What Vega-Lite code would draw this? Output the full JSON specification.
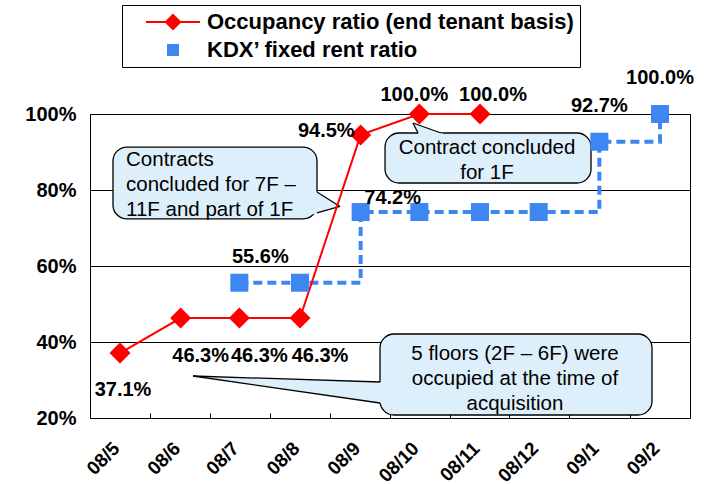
{
  "$schema": "https://vega.github.io/schema/vega-lite/v6.json",
  "width": 600,
  "height": 304,
  "autosize": "none",
  "padding": {"left": 90, "top": 114, "right": 21, "bottom": 66},
  "background": "white",
  "datasets": {
    "occ": [
      {"month": "2008-05-01", "value": 37.1, "label": "37.1%"},
      {"month": "2008-06-01", "value": 46.3, "label": "46.3%"},
      {"month": "2008-07-01", "value": 46.3, "label": "46.3%"},
      {"month": "2008-08-01", "value": 46.3, "label": "46.3%"},
      {"month": "2008-09-01", "value": 94.5, "label": "94.5%"},
      {"month": "2008-10-01", "value": 100.0, "label": "100.0%"},
      {"month": "2008-11-01", "value": 100.0, "label": "100.0%"}
    ],
    "rent": [
      {"month": "2008-07-01", "value": 55.6, "label": "55.6%"},
      {"month": "2008-08-01", "value": 55.6},
      {"month": "2008-09-01", "value": 74.2, "label": "74.2%"},
      {"month": "2008-10-01", "value": 74.2},
      {"month": "2008-11-01", "value": 74.2},
      {"month": "2008-12-01", "value": 74.2},
      {"month": "2009-01-01", "value": 92.7, "label": "92.7%"},
      {"month": "2009-02-01", "value": 100.0, "label": "100.0%"}
    ],
    "boxes": [
      {"id": 1, "x": "2008-04-27T10:00:00Z", "x2": "2008-08-09T16:30:00Z", "y": 91.3, "y2": 72.4},
      {"id": 2, "x": "2008-09-13T11:00:00Z", "x2": "2008-12-27T18:00:00Z", "y": 95.0, "y2": 81.84},
      {"id": 3, "x": "2008-09-10T21:30:00Z", "x2": "2009-01-27T22:00:00Z", "y": 42.1, "y2": 20.79}
    ],
    "ptrV": [
      {"id": 1, "x": "2008-08-06T15:00:00Z", "y": 80.47, "y2": 73.5},
      {"id": 1, "x": "2008-08-21T10:30:00Z", "y": 75.66, "y2": 75.66},
      {"id": 3, "x": "2008-06-07T07:30:00Z", "y": 31.05, "y2": 31.05},
      {"id": 3, "x": "2008-09-13T11:00:00Z", "y": 29.43, "y2": 23.76}
    ],
    "ptrH": [
      {"id": 2, "y": 97.63, "x": "2008-09-27T18:00:00Z", "x2": "2008-09-27T18:00:00Z"},
      {"id": 2, "y": 94.0, "x": "2008-10-01T07:00:00Z", "x2": "2008-10-17T12:00:00Z"}
    ],
    "edges": [
      {"edge": "1a", "x": "2008-08-09T16:30:00Z", "y": 79.47},
      {"edge": "1a", "x": "2008-08-21T10:30:00Z", "y": 75.66},
      {"edge": "1b", "x": "2008-08-09T16:30:00Z", "y": 73.95},
      {"edge": "1b", "x": "2008-08-21T10:30:00Z", "y": 75.66},
      {"edge": "2a", "x": "2008-09-30T07:30:00Z", "y": 95.0},
      {"edge": "2a", "x": "2008-09-27T18:00:00Z", "y": 97.63},
      {"edge": "2b", "x": "2008-10-12T01:30:00Z", "y": 95.0},
      {"edge": "2b", "x": "2008-09-27T18:00:00Z", "y": 97.63},
      {"edge": "3a", "x": "2008-09-10T21:30:00Z", "y": 29.47},
      {"edge": "3a", "x": "2008-06-07T07:30:00Z", "y": 31.05},
      {"edge": "3b", "x": "2008-09-10T21:30:00Z", "y": 23.95},
      {"edge": "3b", "x": "2008-06-07T07:30:00Z", "y": 31.05}
    ],
    "notes": [
      {"id": 1, "x": "2008-05-04T02:00:00Z", "y": 87.89, "text": "Contracts\nconcluded for 7F –\n11F and part of 1F"},
      {"id": 2, "x": "2008-11-04T14:00:00Z", "y": 91.18, "text": "Contract concluded\nfor 1F"},
      {"id": 3, "x": "2008-11-18T21:00:00Z", "y": 36.84, "text": "5 floors (2F – 6F) were\noccupied at the time of\nacquisition"}
    ]
  },
  "resolve": {"axis": {"x": "independent"}},
  "layer": [
    {
      "data": {"name": "boxes"},
      "mark": {"type": "rect", "cornerRadius": 14, "fill": "#DDEFFA", "stroke": "#000", "strokeWidth": 1.3},
      "encoding": {
        "x": {"field": "x", "type": "temporal", "axis": null, "scale": {"type": "utc", "domain": [{"year": 2008, "month": 4, "date": 15, "hours": 16, "utc": true}, {"year": 2009, "month": 2, "date": 16, "hours": 8, "utc": true}]}},
        "x2": {"field": "x2"},
        "y": {"field": "y", "type": "quantitative", "scale": {"domain": [20, 100], "nice": false, "zero": false}},
        "y2": {"field": "y2"}
      }
    },
    {
      "data": {"name": "ptrV"},
      "mark": {"type": "area", "orient": "vertical", "fill": "#DDEFFA", "opacity": 1},
      "encoding": {
        "x": {"field": "x", "type": "temporal", "axis": null, "scale": {"type": "utc", "domain": [{"year": 2008, "month": 4, "date": 15, "hours": 16, "utc": true}, {"year": 2009, "month": 2, "date": 16, "hours": 8, "utc": true}]}},
        "y": {"field": "y", "type": "quantitative", "scale": {"domain": [20, 100], "nice": false, "zero": false}},
        "y2": {"field": "y2"},
        "detail": {"field": "id", "type": "nominal"}
      }
    },
    {
      "data": {"name": "ptrH"},
      "mark": {"type": "area", "orient": "horizontal", "fill": "#DDEFFA", "opacity": 1},
      "encoding": {
        "y": {"field": "y", "type": "quantitative", "scale": {"domain": [20, 100], "nice": false, "zero": false}},
        "x": {"field": "x", "type": "temporal", "axis": null, "scale": {"type": "utc", "domain": [{"year": 2008, "month": 4, "date": 15, "hours": 16, "utc": true}, {"year": 2009, "month": 2, "date": 16, "hours": 8, "utc": true}]}},
        "x2": {"field": "x2"},
        "detail": {"field": "id", "type": "nominal"}
      }
    },
    {
      "data": {"name": "edges"},
      "mark": {"type": "line", "color": "#000", "strokeWidth": 1.3},
      "encoding": {
        "x": {"field": "x", "type": "temporal", "axis": null, "scale": {"type": "utc", "domain": [{"year": 2008, "month": 4, "date": 15, "hours": 16, "utc": true}, {"year": 2009, "month": 2, "date": 16, "hours": 8, "utc": true}]}},
        "y": {"field": "y", "type": "quantitative", "scale": {"domain": [20, 100], "nice": false, "zero": false}},
        "detail": {"field": "edge", "type": "nominal"}
      }
    },
    {
      "data": {"name": "notes"},
      "transform": [{"filter": "datum.id == 1"}],
      "mark": {"type": "text", "align": "left", "baseline": "middle", "lineBreak": "\n", "lineHeight": 25, "font": "Liberation Sans", "fontSize": 20.5, "color": "#000"},
      "encoding": {
        "x": {"field": "x", "type": "temporal", "axis": null, "scale": {"type": "utc", "domain": [{"year": 2008, "month": 4, "date": 15, "hours": 16, "utc": true}, {"year": 2009, "month": 2, "date": 16, "hours": 8, "utc": true}]}},
        "y": {"field": "y", "type": "quantitative", "scale": {"domain": [20, 100], "nice": false, "zero": false}},
        "text": {"field": "text", "type": "nominal"}
      }
    },
    {
      "data": {"name": "notes"},
      "transform": [{"filter": "datum.id != 1"}],
      "mark": {"type": "text", "align": "center", "baseline": "middle", "lineBreak": "\n", "lineHeight": 25, "font": "Liberation Sans", "fontSize": 20.5, "color": "#000"},
      "encoding": {
        "x": {"field": "x", "type": "temporal", "axis": null, "scale": {"type": "utc", "domain": [{"year": 2008, "month": 4, "date": 15, "hours": 16, "utc": true}, {"year": 2009, "month": 2, "date": 16, "hours": 8, "utc": true}]}},
        "y": {"field": "y", "type": "quantitative", "scale": {"domain": [20, 100], "nice": false, "zero": false}},
        "text": {"field": "text", "type": "nominal"}
      }
    },
    {
      "data": {"name": "rent"},
      "mark": {"type": "line", "interpolate": "step-after", "color": "#3E86F2", "strokeWidth": 4, "strokeDash": [9, 5]},
      "encoding": {
        "x": {"field": "month", "type": "temporal", "scale": {"type": "utc", "domain": [{"year": 2008, "month": 4, "date": 15, "hours": 16, "utc": true}, {"year": 2009, "month": 2, "date": 16, "hours": 8, "utc": true}]},
          "axis": {"orient": "bottom", "offset": -5, "values": [
            {"year": 2008, "month": 5, "date": 16, "hours": 12, "utc": true},
            {"year": 2008, "month": 6, "date": 16, "utc": true},
            {"year": 2008, "month": 7, "date": 16, "hours": 12, "utc": true},
            {"year": 2008, "month": 8, "date": 16, "hours": 12, "utc": true},
            {"year": 2008, "month": 9, "date": 16, "utc": true},
            {"year": 2008, "month": 10, "date": 16, "hours": 12, "utc": true},
            {"year": 2008, "month": 11, "date": 16, "utc": true},
            {"year": 2008, "month": 12, "date": 16, "hours": 12, "utc": true},
            {"year": 2009, "month": 1, "date": 16, "hours": 12, "utc": true}
          ], "labels": false, "ticks": true, "tickSize": 5, "tickColor": "#000", "tickWidth": 1, "domain": false, "grid": false, "title": null}},
        "y": {"field": "value", "type": "quantitative", "scale": {"domain": [20, 100], "nice": false, "zero": false}}
      }
    },
    {
      "data": {"name": "occ"},
      "mark": {"type": "line", "color": "#FF0000", "strokeWidth": 2},
      "encoding": {
        "x": {"field": "month", "type": "temporal", "scale": {"type": "utc", "domain": [{"year": 2008, "month": 4, "date": 15, "hours": 16, "utc": true}, {"year": 2009, "month": 2, "date": 16, "hours": 8, "utc": true}]},
          "axis": {"orient": "bottom", "values": [
            {"year": 2008, "month": 5, "date": 1, "utc": true},
            {"year": 2008, "month": 6, "date": 1, "utc": true},
            {"year": 2008, "month": 7, "date": 1, "utc": true},
            {"year": 2008, "month": 8, "date": 1, "utc": true},
            {"year": 2008, "month": 9, "date": 1, "utc": true},
            {"year": 2008, "month": 10, "date": 1, "utc": true},
            {"year": 2008, "month": 11, "date": 1, "utc": true},
            {"year": 2008, "month": 12, "date": 1, "utc": true},
            {"year": 2009, "month": 1, "date": 1, "utc": true},
            {"year": 2009, "month": 2, "date": 1, "utc": true}
          ], "labelExpr": "utcFormat(datum.value, '%y/%-m')", "labelAngle": -45, "labelAlign": "right", "labelBaseline": "middle", "labelPadding": 27, "labelOffset": -4, "labelFont": "Liberation Sans", "labelFontSize": 19, "labelFontWeight": "bold", "labelColor": "#000", "ticks": false, "domain": false, "grid": false, "title": null, "labelOverlap": false, "labelBound": false, "labelFlush": false}},
        "y": {"field": "value", "type": "quantitative", "scale": {"domain": [20, 100], "nice": false, "zero": false},
          "axis": {"values": [20, 40, 60, 80, 100], "labelExpr": "datum.value + '%'", "grid": true, "gridColor": "#000", "gridWidth": 1, "gridOpacity": 1, "domain": false, "ticks": false, "tickSize": 0, "labelFont": "Liberation Sans", "labelFontSize": 20, "labelFontWeight": "bold", "labelColor": "#000", "labelPadding": 14, "title": null, "labelOverlap": false}}
      }
    },
    {
      "data": {"name": "rent"},
      "mark": {"type": "point", "shape": "square", "filled": true, "size": 324, "opacity": 1, "strokeWidth": 0},
      "encoding": {
        "x": {"field": "month", "type": "temporal", "axis": null, "scale": {"type": "utc", "domain": [{"year": 2008, "month": 4, "date": 15, "hours": 16, "utc": true}, {"year": 2009, "month": 2, "date": 16, "hours": 8, "utc": true}]}},
        "y": {"field": "value", "type": "quantitative", "scale": {"domain": [20, 100], "nice": false, "zero": false}},
        "color": {"datum": "KDX’ fixed rent ratio", "type": "nominal",
          "scale": {"domain": ["Occupancy ratio (end tenant basis)", "KDX’ fixed rent ratio"], "range": ["#FF0000", "#3E86F2"]},
          "legend": {"orient": "none", "legendX": 32, "legendY": -109, "title": null, "padding": 6, "strokeColor": "#000", "fillColor": "#fff", "symbolSize": 400, "symbolOffset": 34, "labelOffset": 23, "labelFont": "Liberation Sans", "labelFontSize": 22, "labelFontWeight": "bold", "labelColor": "#000", "labelLimit": 600, "rowPadding": 6, "symbolStrokeWidth": 0, "symbolOpacity": 1,
            "encode": {"symbols": {"update": {"shape": {"signal": "datum.index === 0 ? 'M-2.7,-0.1H2.7V0.1H-2.7ZM0,-0.85L0.85,0L0,0.85L-0.85,0Z' : 'M-0.6,-0.6H0.6V0.6H-0.6Z'"}}}}}
        }
      }
    },
    {
      "data": {"name": "occ"},
      "mark": {"type": "point", "shape": "diamond", "filled": true, "size": 441, "opacity": 1, "strokeWidth": 0},
      "encoding": {
        "x": {"field": "month", "type": "temporal", "axis": null, "scale": {"type": "utc", "domain": [{"year": 2008, "month": 4, "date": 15, "hours": 16, "utc": true}, {"year": 2009, "month": 2, "date": 16, "hours": 8, "utc": true}]}},
        "y": {"field": "value", "type": "quantitative", "scale": {"domain": [20, 100], "nice": false, "zero": false}},
        "color": {"datum": "Occupancy ratio (end tenant basis)", "type": "nominal",
          "scale": {"domain": ["Occupancy ratio (end tenant basis)", "KDX’ fixed rent ratio"], "range": ["#FF0000", "#3E86F2"]},
          "legend": {"orient": "none", "legendX": 32, "legendY": -109, "title": null, "padding": 6, "strokeColor": "#000", "fillColor": "#fff", "symbolSize": 400, "symbolOffset": 34, "labelOffset": 23, "labelFont": "Liberation Sans", "labelFontSize": 22, "labelFontWeight": "bold", "labelColor": "#000", "labelLimit": 600, "rowPadding": 6, "symbolStrokeWidth": 0, "symbolOpacity": 1,
            "encode": {"symbols": {"update": {"shape": {"signal": "datum.index === 0 ? 'M-2.7,-0.1H2.7V0.1H-2.7ZM0,-0.85L0.85,0L0,0.85L-0.85,0Z' : 'M-0.6,-0.6H0.6V0.6H-0.6Z'"}}}}}
        }
      }
    },
    {
      "data": {"name": "occ"},
      "transform": [{"filter": "datum.label == '37.1%'"}],
      "mark": {"type": "text", "align": "center", "baseline": "middle", "dx": 3, "dy": 37, "font": "Liberation Sans", "fontSize": 20, "fontWeight": "bold", "color": "#000"},
      "encoding": {
        "x": {"field": "month", "type": "temporal", "axis": null, "scale": {"type": "utc", "domain": [{"year": 2008, "month": 4, "date": 15, "hours": 16, "utc": true}, {"year": 2009, "month": 2, "date": 16, "hours": 8, "utc": true}]}},
        "y": {"field": "value", "type": "quantitative", "scale": {"domain": [20, 100], "nice": false, "zero": false}},
        "text": {"field": "label", "type": "nominal"}
      }
    },
    {
      "data": {"name": "occ"},
      "transform": [{"filter": "datum.label == '46.3%'"}],
      "mark": {"type": "text", "align": "center", "baseline": "middle", "dx": 20, "dy": 38, "font": "Liberation Sans", "fontSize": 20, "fontWeight": "bold", "color": "#000"},
      "encoding": {
        "x": {"field": "month", "type": "temporal", "axis": null, "scale": {"type": "utc", "domain": [{"year": 2008, "month": 4, "date": 15, "hours": 16, "utc": true}, {"year": 2009, "month": 2, "date": 16, "hours": 8, "utc": true}]}},
        "y": {"field": "value", "type": "quantitative", "scale": {"domain": [20, 100], "nice": false, "zero": false}},
        "text": {"field": "label", "type": "nominal"}
      }
    },
    {
      "data": {"name": "occ"},
      "transform": [{"filter": "datum.label == '94.5%'"}],
      "mark": {"type": "text", "align": "right", "baseline": "middle", "dx": -6, "dy": -4, "font": "Liberation Sans", "fontSize": 20, "fontWeight": "bold", "color": "#000"},
      "encoding": {
        "x": {"field": "month", "type": "temporal", "axis": null, "scale": {"type": "utc", "domain": [{"year": 2008, "month": 4, "date": 15, "hours": 16, "utc": true}, {"year": 2009, "month": 2, "date": 16, "hours": 8, "utc": true}]}},
        "y": {"field": "value", "type": "quantitative", "scale": {"domain": [20, 100], "nice": false, "zero": false}},
        "text": {"field": "label", "type": "nominal"}
      }
    },
    {
      "data": {"name": "occ"},
      "transform": [{"filter": "datum.label == '100.0%' && utcmonth(datum.month) == 9"}],
      "mark": {"type": "text", "align": "center", "baseline": "middle", "dx": -5, "dy": -19, "font": "Liberation Sans", "fontSize": 20, "fontWeight": "bold", "color": "#000"},
      "encoding": {
        "x": {"field": "month", "type": "temporal", "axis": null, "scale": {"type": "utc", "domain": [{"year": 2008, "month": 4, "date": 15, "hours": 16, "utc": true}, {"year": 2009, "month": 2, "date": 16, "hours": 8, "utc": true}]}},
        "y": {"field": "value", "type": "quantitative", "scale": {"domain": [20, 100], "nice": false, "zero": false}},
        "text": {"field": "label", "type": "nominal"}
      }
    },
    {
      "data": {"name": "occ"},
      "transform": [{"filter": "datum.label == '100.0%' && utcmonth(datum.month) == 10"}],
      "mark": {"type": "text", "align": "center", "baseline": "middle", "dx": 13, "dy": -19, "font": "Liberation Sans", "fontSize": 20, "fontWeight": "bold", "color": "#000"},
      "encoding": {
        "x": {"field": "month", "type": "temporal", "axis": null, "scale": {"type": "utc", "domain": [{"year": 2008, "month": 4, "date": 15, "hours": 16, "utc": true}, {"year": 2009, "month": 2, "date": 16, "hours": 8, "utc": true}]}},
        "y": {"field": "value", "type": "quantitative", "scale": {"domain": [20, 100], "nice": false, "zero": false}},
        "text": {"field": "label", "type": "nominal"}
      }
    },
    {
      "data": {"name": "rent"},
      "transform": [{"filter": "datum.label == '55.6%'"}],
      "mark": {"type": "text", "align": "center", "baseline": "middle", "dx": 21, "dy": -26, "font": "Liberation Sans", "fontSize": 20, "fontWeight": "bold", "color": "#000"},
      "encoding": {
        "x": {"field": "month", "type": "temporal", "axis": null, "scale": {"type": "utc", "domain": [{"year": 2008, "month": 4, "date": 15, "hours": 16, "utc": true}, {"year": 2009, "month": 2, "date": 16, "hours": 8, "utc": true}]}},
        "y": {"field": "value", "type": "quantitative", "scale": {"domain": [20, 100], "nice": false, "zero": false}},
        "text": {"field": "label", "type": "nominal"}
      }
    },
    {
      "data": {"name": "rent"},
      "transform": [{"filter": "datum.label == '74.2%'"}],
      "mark": {"type": "text", "align": "center", "baseline": "middle", "dx": 32, "dy": -14, "font": "Liberation Sans", "fontSize": 20, "fontWeight": "bold", "color": "#000"},
      "encoding": {
        "x": {"field": "month", "type": "temporal", "axis": null, "scale": {"type": "utc", "domain": [{"year": 2008, "month": 4, "date": 15, "hours": 16, "utc": true}, {"year": 2009, "month": 2, "date": 16, "hours": 8, "utc": true}]}},
        "y": {"field": "value", "type": "quantitative", "scale": {"domain": [20, 100], "nice": false, "zero": false}},
        "text": {"field": "label", "type": "nominal"}
      }
    },
    {
      "data": {"name": "rent"},
      "transform": [{"filter": "datum.label == '92.7%' || datum.label == '100.0%'"}],
      "mark": {"type": "text", "align": "center", "baseline": "middle", "dx": 0, "dy": -36, "font": "Liberation Sans", "fontSize": 20, "fontWeight": "bold", "color": "#000"},
      "encoding": {
        "x": {"field": "month", "type": "temporal", "axis": null, "scale": {"type": "utc", "domain": [{"year": 2008, "month": 4, "date": 15, "hours": 16, "utc": true}, {"year": 2009, "month": 2, "date": 16, "hours": 8, "utc": true}]}},
        "y": {"field": "value", "type": "quantitative", "scale": {"domain": [20, 100], "nice": false, "zero": false}},
        "text": {"field": "label", "type": "nominal"}
      }
    }
  ],
  "config": {
    "view": {"stroke": "#000", "strokeWidth": 1},
    "font": "Liberation Sans"
  }
}
